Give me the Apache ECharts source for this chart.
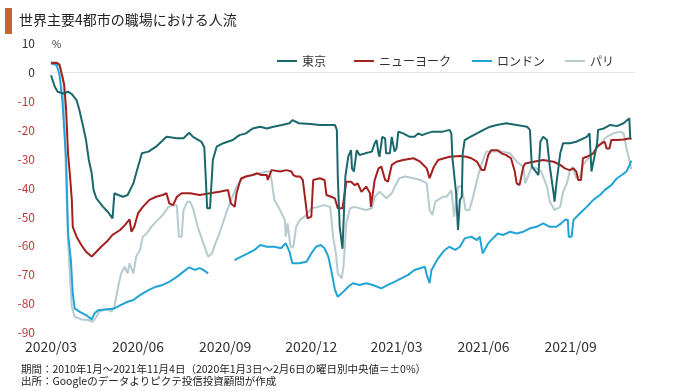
<!DOCTYPE html>
<html>
<head>
<meta charset="utf-8">
<script src="https://cdn.jsdelivr.net/npm/echarts@6/dist/echarts.min.js"></script>
<style>
html,body{margin:0;padding:0;background:#fff;}
#chart{width:680px;height:391px;}
</style>
</head>
<body>
<div id="chart"></div>
<script>
const titleText = '世界主要4都市の職場における人流';
const note1 = '期間：2010年1月～2021年11月4日（2020年1月3日～2月6日の曜日別中央値＝±0%）';
const note2 = '出所：Googleのデータよりピクテ投信投資顧問が作成';
const seriesNames = ['東京', 'ニューヨーク', 'ロンドン', 'パリ'];
const xTickLabels = ['2020/03', '2020/06', '2020/09', '2020/12', '2021/03', '2021/06', '2021/09'];
const xRange = ['2020-03-01', '2021-11-08'];
const yTicks = [10, 0, -10, -20, -30, -40, -50, -60, -70, -80, -90];

const tokyo = [
['2020-03-01',-1],['2020-03-05',-5],['2020-03-08',-6.7],['2020-03-14',-7.3],['2020-03-19',-6.7],['2020-03-23',-7.5],['2020-03-28',-9.6],['2020-03-31',-13],['2020-04-04',-18.8],['2020-04-07',-23.4],['2020-04-10',-30.3],['2020-04-13',-34.9],['2020-04-15',-40.7],['2020-04-18',-43.6],['2020-04-25',-46.5],['2020-04-30',-48.2],['2020-05-05',-50.5],['2020-05-07',-41.8],['2020-05-11',-42.4],['2020-05-16',-43],['2020-05-21',-42.4],['2020-05-27',-38.4],['2020-05-30',-34.9],['2020-06-05',-28],['2020-06-12',-27.4],['2020-06-20',-25.7],['2020-07-01',-22.3],['2020-07-12',-22.8],['2020-07-19',-22.8],['2020-07-25',-20.9],['2020-07-29',-22.3],['2020-08-07',-24],['2020-08-10',-26],['2020-08-13',-47],['2020-08-16',-47],['2020-08-19',-30.3],['2020-08-23',-25.7],['2020-08-30',-24.5],['2020-09-09',-23.4],['2020-09-16',-21.7],['2020-09-23',-21.1],['2020-09-30',-19.4],['2020-10-08',-18.8],['2020-10-15',-19.4],['2020-10-22',-18.8],['2020-10-31',-18.2],['2020-11-08',-17.6],['2020-11-11',-16.5],['2020-11-18',-17.6],['2020-11-30',-17.9],['2020-12-10',-18.2],['2020-12-21',-18.2],['2020-12-26',-18.2],['2020-12-28',-19.9],['2020-12-29',-36],['2020-12-31',-53.4],['2021-01-03',-61],['2021-01-04',-61.4],['2021-01-06',-36],['2021-01-09',-29.2],['2021-01-12',-26.9],['2021-01-13',-33.2],['2021-01-15',-34.3],['2021-01-18',-26.9],['2021-01-21',-28.6],['2021-01-27',-28],['2021-02-03',-27.4],['2021-02-06',-24.5],['2021-02-08',-23.4],['2021-02-10',-28],['2021-02-11',-29.2],['2021-02-14',-22.3],['2021-02-17',-22.8],['2021-02-18',-28],['2021-02-22',-28],['2021-02-24',-22.3],['2021-02-27',-27.4],['2021-03-01',-26.3],['2021-03-03',-20.5],['2021-03-08',-21.1],['2021-03-15',-22.3],['2021-03-20',-22.3],['2021-03-24',-21.1],['2021-03-28',-21.7],['2021-04-02',-21.1],['2021-04-08',-20.5],['2021-04-19',-20.5],['2021-04-26',-19.9],['2021-04-28',-21.1],['2021-04-29',-29.2],['2021-05-03',-41.8],['2021-05-05',-54.5],['2021-05-07',-44.1],['2021-05-09',-43],['2021-05-10',-28],['2021-05-12',-23.4],['2021-05-18',-22.3],['2021-05-25',-21.1],['2021-06-01',-19.9],['2021-06-08',-18.8],['2021-06-15',-18.2],['2021-06-25',-17.6],['2021-07-06',-18.2],['2021-07-17',-18.8],['2021-07-20',-19.9],['2021-07-22',-32.6],['2021-07-25',-33.8],['2021-07-29',-35.5],['2021-07-31',-24],['2021-08-03',-22.3],['2021-08-07',-23.4],['2021-08-10',-32.6],['2021-08-14',-41.8],['2021-08-15',-44.7],['2021-08-17',-38.4],['2021-08-21',-28],['2021-08-24',-24.5],['2021-08-31',-24.5],['2021-09-07',-24],['2021-09-18',-22.3],['2021-09-21',-21.1],['2021-09-23',-34.3],['2021-09-25',-33.8],['2021-09-29',-24.5],['2021-09-30',-19.9],['2021-10-06',-19.4],['2021-10-13',-18.2],['2021-10-20',-18.6],['2021-10-27',-17.6],['2021-11-02',-15.9],['2021-11-03',-22.8],['2021-11-04',-22.8]
];

const newYork = [
['2020-03-01',3.1],['2020-03-07',3.3],['2020-03-10',2.5],['2020-03-13',-1.5],['2020-03-15',-4.4],['2020-03-17',-13],['2020-03-19',-28],['2020-03-21',-35.5],['2020-03-23',-44.1],['2020-03-24',-53.4],['2020-03-28',-56.8],['2020-04-02',-59.7],['2020-04-07',-62],['2020-04-13',-63.7],['2020-04-18',-62],['2020-04-23',-60.3],['2020-04-29',-58.5],['2020-05-05',-56.2],['2020-05-13',-54.5],['2020-05-18',-52.8],['2020-05-23',-50.8],['2020-05-25',-55.1],['2020-05-28',-53.4],['2020-06-01',-48.7],['2020-06-06',-46.5],['2020-06-13',-44.1],['2020-06-20',-43],['2020-06-27',-42.4],['2020-07-01',-41.8],['2020-07-04',-45.3],['2020-07-08',-45.9],['2020-07-12',-43],['2020-07-17',-41.8],['2020-07-26',-41.8],['2020-08-05',-42.4],['2020-08-16',-41.8],['2020-08-26',-41.3],['2020-09-04',-40.7],['2020-09-07',-45.3],['2020-09-11',-46.5],['2020-09-13',-41.8],['2020-09-16',-38.4],['2020-09-18',-36.6],['2020-09-23',-36],['2020-09-30',-35.5],['2020-10-05',-34.9],['2020-10-09',-35.5],['2020-10-15',-35.5],['2020-10-16',-37.2],['2020-10-20',-33.8],['2020-10-29',-34.3],['2020-11-05',-33.8],['2020-11-10',-34.3],['2020-11-12',-35.5],['2020-11-15',-36],['2020-11-19',-36],['2020-11-22',-37.2],['2020-11-26',-47.6],['2020-11-27',-50.5],['2020-12-01',-49.9],['2020-12-03',-37.2],['2020-12-05',-36.6],['2020-12-10',-36.6],['2020-12-15',-37.2],['2020-12-17',-42.4],['2020-12-22',-43],['2020-12-26',-43.6],['2020-12-29',-47],['2021-01-03',-47],['2021-01-07',-37.8],['2021-01-12',-37.8],['2021-01-16',-39],['2021-01-19',-38.4],['2021-01-23',-41.3],['2021-01-28',-39.5],['2021-02-01',-41.8],['2021-02-02',-46.5],['2021-02-04',-47],['2021-02-06',-37.2],['2021-02-10',-33.2],['2021-02-13',-32.6],['2021-02-17',-37.2],['2021-02-20',-37.8],['2021-02-24',-32],['2021-03-01',-30.9],['2021-03-08',-30.3],['2021-03-19',-29.7],['2021-03-26',-30.9],['2021-04-02',-33.2],['2021-04-05',-36.6],['2021-04-09',-33],['2021-04-14',-30.3],['2021-04-16',-29.7],['2021-04-26',-29.2],['2021-05-07',-28.9],['2021-05-14',-29.2],['2021-05-19',-29.7],['2021-05-25',-30.9],['2021-05-30',-33.8],['2021-06-02',-33.8],['2021-06-06',-28.6],['2021-06-09',-26.9],['2021-06-16',-26.9],['2021-06-20',-28],['2021-06-25',-28.6],['2021-06-30',-29.7],['2021-07-04',-34.3],['2021-07-06',-38.4],['2021-07-09',-39],['2021-07-13',-32.6],['2021-07-15',-31.5],['2021-07-24',-30.9],['2021-08-03',-30.3],['2021-08-14',-30.9],['2021-08-21',-32],['2021-08-26',-33.2],['2021-08-31',-33.8],['2021-09-04',-33.2],['2021-09-07',-34.3],['2021-09-09',-37.2],['2021-09-12',-37.2],['2021-09-14',-29.7],['2021-09-18',-29.2],['2021-09-25',-28],['2021-09-29',-25.7],['2021-10-04',-24.5],['2021-10-07',-24],['2021-10-09',-26.3],['2021-10-12',-26.3],['2021-10-14',-23.4],['2021-10-20',-23.4],['2021-10-27',-23.2],['2021-11-03',-22.8],['2021-11-04',-23.2]
];

const london = [
['2020-03-01',3.1],['2020-03-07',2.5],['2020-03-10',-0.9],['2020-03-13',-9.6],['2020-03-14',-10.2],['2020-03-17',-30.3],['2020-03-19',-55.7],['2020-03-22',-64.9],['2020-03-24',-76.4],['2020-03-26',-81.6],['2020-03-31',-82.7],['2020-04-07',-83.9],['2020-04-13',-85.4],['2020-04-16',-83.3],['2020-04-20',-82.2],['2020-04-29',-81.9],['2020-05-07',-81.6],['2020-05-14',-80.4],['2020-05-21',-79.3],['2020-05-27',-78.7],['2020-06-03',-77],['2020-06-12',-75.3],['2020-06-20',-74.1],['2020-06-27',-73.5],['2020-07-04',-72.4],['2020-07-12',-70.7],['2020-07-19',-68.9],['2020-07-25',-67.4],['2020-07-31',-68.3],['2020-08-05',-67.7],['2020-08-09',-68.3],['2020-08-14',-69.5],['2020-08-28',null],['2020-09-11',-64.9],['2020-09-18',-63.7],['2020-09-25',-62.6],['2020-10-02',-61.4],['2020-10-08',-59.7],['2020-10-15',-60.3],['2020-10-23',-60.3],['2020-10-30',-60.8],['2020-11-04',-59.1],['2020-11-08',-62],['2020-11-11',-66],['2020-11-18',-66],['2020-11-26',-65.5],['2020-12-01',-62.6],['2020-12-06',-60.3],['2020-12-11',-59.7],['2020-12-15',-60.8],['2020-12-19',-63.7],['2020-12-22',-68.3],['2020-12-26',-75.2],['2020-12-29',-77.6],['2021-01-04',-75.8],['2021-01-09',-74.1],['2021-01-14',-72.9],['2021-01-21',-73.5],['2021-01-28',-72.9],['2021-02-04',-73.5],['2021-02-13',-74.7],['2021-02-20',-73.5],['2021-02-27',-72.4],['2021-03-06',-71.2],['2021-03-13',-70.1],['2021-03-20',-68.3],['2021-03-26',-67.7],['2021-03-31',-67.2],['2021-04-02',-70],['2021-04-05',-72.9],['2021-04-07',-68.3],['2021-04-14',-64.3],['2021-04-21',-61.4],['2021-04-26',-60.3],['2021-05-02',-61.4],['2021-05-07',-60.3],['2021-05-12',-57.4],['2021-05-19',-56.8],['2021-05-25',-58],['2021-05-28',-56.8],['2021-05-31',-62.6],['2021-06-06',-59.1],['2021-06-09',-58],['2021-06-16',-55.7],['2021-06-22',-56.2],['2021-06-29',-55.1],['2021-07-06',-55.7],['2021-07-13',-55.1],['2021-07-20',-53.9],['2021-07-27',-53.4],['2021-08-03',-52.2],['2021-08-10',-53.4],['2021-08-17',-53.4],['2021-08-22',-52.2],['2021-08-26',-51],['2021-08-29',-51],['2021-08-30',-56.8],['2021-09-02',-56.8],['2021-09-04',-51],['2021-09-11',-48.7],['2021-09-18',-46.5],['2021-09-25',-44.1],['2021-10-02',-42.4],['2021-10-07',-40.7],['2021-10-14',-39],['2021-10-20',-36.6],['2021-10-25',-35.5],['2021-10-30',-34.3],['2021-11-03',-31.5],['2021-11-04',-30.5]
];

const paris = [
['2020-03-01',3.7],['2020-03-10',3.1],['2020-03-14',-2.7],['2020-03-15',-15],['2020-03-17',-37],['2020-03-19',-58],['2020-03-21',-70.7],['2020-03-23',-81],['2020-03-26',-84.5],['2020-04-02',-85.4],['2020-04-09',-85.6],['2020-04-14',-86.2],['2020-04-18',-84.5],['2020-04-21',-82.7],['2020-04-29',-81.9],['2020-05-04',-82.7],['2020-05-07',-81],['2020-05-11',-74.1],['2020-05-14',-69.5],['2020-05-18',-67.2],['2020-05-21',-69.5],['2020-05-23',-66],['2020-05-27',-69.5],['2020-05-30',-63.7],['2020-06-03',-61.4],['2020-06-06',-56.8],['2020-06-10',-55.7],['2020-06-15',-53.4],['2020-06-20',-51.6],['2020-06-27',-49.3],['2020-07-03',-46.5],['2020-07-08',-45.9],['2020-07-12',-46],['2020-07-14',-56.8],['2020-07-17',-56.8],['2020-07-19',-47.6],['2020-07-23',-44.7],['2020-07-26',-44.7],['2020-07-29',-47],['2020-08-03',-53.4],['2020-08-09',-59.1],['2020-08-14',-63.7],['2020-08-18',-62.6],['2020-08-23',-58],['2020-08-26',-55.7],['2020-09-02',-48.7],['2020-09-08',-43.6],['2020-09-13',-39.5],['2020-09-18',-37.2],['2020-09-23',-36],['2020-09-30',-35.5],['2020-10-08',-34.9],['2020-10-15',-34.3],['2020-10-18',-34.3],['2020-10-20',-37.2],['2020-10-23',-44.1],['2020-10-29',-47.6],['2020-11-03',-51],['2020-11-04',-56.8],['2020-11-06',-52.2],['2020-11-09',-60.3],['2020-11-12',-60.3],['2020-11-15',-53.4],['2020-11-19',-51],['2020-11-24',-49.9],['2020-12-01',-47],['2020-12-08',-46.5],['2020-12-15',-45.9],['2020-12-21',-46.5],['2020-12-24',-56.8],['2020-12-27',-62.6],['2020-12-29',-69.5],['2021-01-02',-71.2],['2021-01-04',-67.2],['2021-01-07',-52.2],['2021-01-11',-47],['2021-01-16',-46.5],['2021-01-21',-47],['2021-01-28',-47.6],['2021-02-03',-47],['2021-02-06',-43],['2021-02-11',-41.3],['2021-02-15',-42.4],['2021-02-18',-43.6],['2021-02-24',-41.8],['2021-03-01',-38.4],['2021-03-04',-36.6],['2021-03-10',-36],['2021-03-19',-36.6],['2021-03-26',-37.2],['2021-04-02',-38.4],['2021-04-05',-47.6],['2021-04-08',-49.3],['2021-04-11',-44.7],['2021-04-14',-44.1],['2021-04-19',-43],['2021-04-23',-43],['2021-04-28',-40.7],['2021-05-01',-49.9],['2021-05-05',-39.5],['2021-05-09',-39.5],['2021-05-11',-39],['2021-05-13',-47.6],['2021-05-17',-47.6],['2021-05-21',-43],['2021-05-26',-36],['2021-05-30',-31.5],['2021-06-04',-27.4],['2021-06-11',-27.4],['2021-06-20',-27.4],['2021-06-29',-28],['2021-07-06',-30.9],['2021-07-13',-32.6],['2021-07-15',-38.4],['2021-07-17',-39],['2021-07-22',-32.6],['2021-07-27',-33.2],['2021-08-01',-34.3],['2021-08-07',-39.5],['2021-08-10',-44.7],['2021-08-15',-47.6],['2021-08-21',-46.5],['2021-08-24',-41.3],['2021-08-28',-38.4],['2021-08-31',-34.3],['2021-09-03',-32.6],['2021-09-07',-36.6],['2021-09-11',-36],['2021-09-14',-32],['2021-09-21',-29.2],['2021-09-27',-26.9],['2021-10-04',-24],['2021-10-09',-22.3],['2021-10-16',-21.1],['2021-10-23',-20.5],['2021-10-27',-21.1],['2021-10-30',-26.3],['2021-11-02',-30.3],['2021-11-04',-33.5]
];

const colors = ['#1b686c', '#a3201f', '#22a3d6', '#b5cbd0'];
const FONT = '"Noto Sans CJK JP", "Noto Sans", sans-serif';

function toTime(s) {
  const p = s.split(/[-\/]/);
  return Date.UTC(+p[0], +p[1] - 1, p[2] ? +p[2] : 1);
}
const tickTimes = xTickLabels.map(toTime);

const chart = echarts.init(document.getElementById('chart'), null, {renderer: 'canvas'});

function mkLegend(i, left) {
  return {
    data: [seriesNames[i]], left: left, top: 50,
    icon: 'rect', itemWidth: 20, itemHeight: 2,
    textStyle: {fontFamily: FONT, fontSize: 12, color: '#333'},
    selectedMode: false
  };
}

const seriesData = [tokyo, newYork, london, paris];
const zs = [5, 4, 3, 2];

const series = seriesData.map((d, i) => ({
  name: seriesNames[i], type: 'line',
  data: d.map(p => [toTime(p[0]), p[1]]),
  showSymbol: false, symbol: 'none', connectNulls: false,
  lineStyle: {width: 2, color: colors[i]}, itemStyle: {color: colors[i]},
  z: zs[i], animation: false
}));
series[3].markLine = {
  silent: true, symbol: 'none', label: {show: false},
  lineStyle: {color: '#e4e4e4', width: 1, type: 'solid'},
  data: [{yAxis: 0}], z: 1
};

chart.setOption({
  animation: false,
  textStyle: {fontFamily: FONT},
  grid: {left: 51, right: 45, top: 43.4, bottom: 58.3},
  legend: [mkLegend(0, 272), mkLegend(1, 349), mkLegend(2, 467), mkLegend(3, 560)],
  xAxis: {
    type: 'value', min: toTime(xRange[0]), max: toTime(xRange[1]),
    axisLine: {show: false}, axisTick: {show: false}, splitLine: {show: false},
    axisLabel: {
      customValues: tickTimes, margin: 7, fontSize: 14, color: '#333', fontFamily: FONT,
      hideOverlap: false,
      formatter: function (v) {
        const idx = tickTimes.indexOf(v);
        return idx >= 0 ? xTickLabels[idx] : '';
      }
    }
  },
  yAxis: {
    type: 'value', min: yTicks[yTicks.length - 1], max: yTicks[0], interval: 10,
    axisLine: {show: false}, axisTick: {show: false}, splitLine: {show: false},
    axisLabel: {
      margin: 16, fontSize: 12, fontFamily: FONT,
      color: function (v) { return v < 0 ? '#c0393b' : '#333'; }
    }
  },
  graphic: [
    {type: 'rect', shape: {x: 5, y: 8, width: 7, height: 26}, style: {fill: '#c9622b'}},
    {type: 'text', x: 19, y: 20, style: {text: titleText, fontFamily: FONT, fontSize: 14, fill: '#222', textVerticalAlign: 'middle'}},
    {type: 'text', x: 52, y: 44, style: {text: '%', fontFamily: FONT, fontSize: 10, fill: '#333', textVerticalAlign: 'middle'}},
    {type: 'text', x: 21, y: 369, style: {text: note1, fontFamily: FONT, fontSize: 10.5, fill: '#222', textVerticalAlign: 'middle'}},
    {type: 'text', x: 21, y: 381, style: {text: note2, fontFamily: FONT, fontSize: 10.5, fill: '#222', textVerticalAlign: 'middle'}}
  ],
  series: series
});
</script>
</body>
</html>
